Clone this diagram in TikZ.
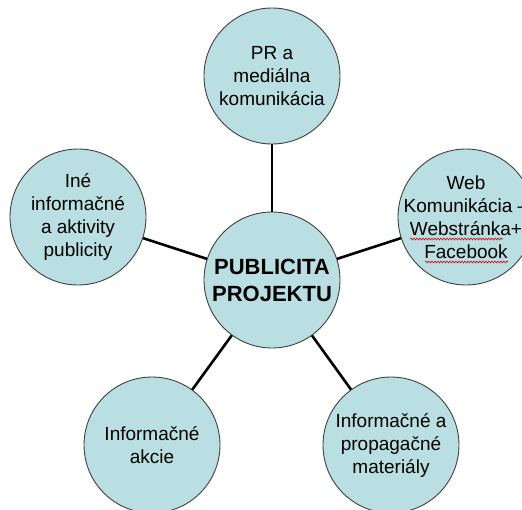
\documentclass[tikz,border=0pt]{standalone}
\usepackage{fontspec}
\setmainfont{Liberation Sans}
\usetikzlibrary{decorations.pathmorphing}
\definecolor{bubblefill}{RGB}{185,223,226}

\begin{document}
\begin{tikzpicture}[x=1pt,y=-1pt,
  bubble/.style={circle,draw=black!75,line width=0.9pt,fill=bubblefill,minimum size=136pt,inner sep=0pt},
  txt/.style={align=center,font=\fontsize{19}{23}\selectfont},
  link/.style={line width=2.6pt},
  typo/.style={red!85!black,line width=0.6pt,decorate,decoration={snake,amplitude=0.9pt,segment length=3pt}}]
  \useasboundingbox (0,0) rectangle (522,509);
  \clip (0,0) rectangle (522,509);
  \node[bubble] (centre) at (272,280) {};
  \node[bubble] (pr)     at (272,76)  {};
  \node[bubble] (web)    at (466,217) {};
  \node[bubble] (mat)    at (391,445) {};
  \node[bubble] (akcie)  at (152,445) {};
  \node[bubble] (ine)    at (78,217)  {};
  \draw[link] (centre) -- (pr);
  \draw[link] (centre) -- (web);
  \draw[link] (centre) -- (mat);
  \draw[link] (centre) -- (akcie);
  \draw[link] (centre) -- (ine);
  \node[txt,font=\bfseries\fontsize{22}{27}\selectfont] (centretext) at (centre) {PUBLICITA\\PROJEKTU};
  \node[txt] (prtext)    at (pr)    {PR a\\mediálna\\komunikácia};
  \node[txt] (webtext)   at (web)   {Web\\Komunikácia –\\Webstránka+\\Facebook};
  \node[txt] (mattext)   at (mat)   {Informačné a\\propagačné\\materiály};
  \node[txt] (akcietext) at (akcie) {Informačné\\akcie};
  \node[txt] (inetext)   at (ine)   {Iné\\informačné\\a aktivity\\publicity};
  % wavy underlines
  \draw[typo] (410,239) -- (503,239);
  \draw[typo] (425,262) -- (508,262);
\end{tikzpicture}
\end{document}
